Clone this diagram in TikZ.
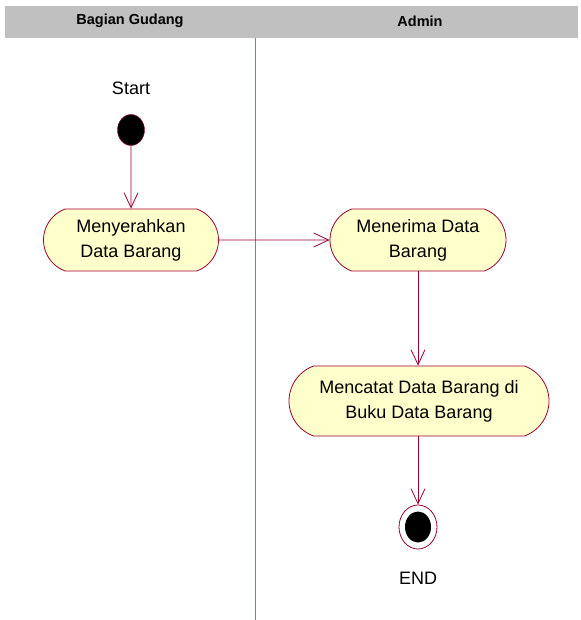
\documentclass[tikz,border=0pt]{standalone}
\usepackage{fontspec}
\setmainfont{Liberation Sans}
\usetikzlibrary{shapes.misc,shapes.geometric,arrows.meta}

\definecolor{lanegray}{RGB}{192,192,192}
\definecolor{umlred}{RGB}{153,0,51}
\definecolor{lanered}{RGB}{214,84,144}
\definecolor{actfill}{RGB}{255,255,204}

\begin{document}
\begin{tikzpicture}[x=1pt,y=-1pt,
    activity/.style={rounded rectangle, rounded rectangle arc length=140, draw=umlred, fill=actfill,
        line width=0.8pt, inner sep=0pt, align=center, font=\fontsize{18}{25}\selectfont},
    flow/.style={draw=umlred, line width=0.8pt, -{Straight Barb[length=15pt,width=14pt]}},
    lanelabel/.style={font=\bfseries\fontsize{14.5}{16}\selectfont},
    caption/.style={font=\fontsize{18}{20}\selectfont}]

    \useasboundingbox (0,0) rectangle (580,620);

    % swimlanes
    \fill [lanegray] (5,6) rectangle (578,38);
    \node [lanelabel] (gudang) at (130,21) {Bagian Gudang};
    \node [lanelabel] (admin) at (420,21) {Admin};
    \draw [lanered, line width=1pt] (255,38) -- (255,620);

    % start
    \node [caption] (startlabel) at (131,88) {Start};
    \node [ellipse, draw=umlred, fill=black, minimum width=27pt, minimum height=31pt] (start) at (131,130) {};

    % activities
    \node [activity, minimum width=175pt, minimum height=62pt] (menyerahkan) at (131,240) {Menyerahkan\\Data Barang};
    \node [activity, minimum width=176pt, minimum height=62pt] (menerima) at (418,240) {Menerima Data\\Barang};
    \node [activity, minimum width=260pt, minimum height=70pt] (mencatat) at (419,401) {Mencatat Data Barang di\\Buku Data Barang};

    % end
    \node [ellipse, draw=umlred, fill=white, line width=0.8pt, minimum width=38pt, minimum height=44pt] (endring) at (418,527) {};
    \node [ellipse, fill=black, minimum width=26pt, minimum height=31pt] (enddot) at (418,527) {};
    \node [caption] (endlabel) at (418,578) {END};

    % flows
    \draw [flow] (start) -- (menyerahkan);
    \draw [flow] (menyerahkan) -- (menerima);
    \draw [flow] (menerima.south) -- (menerima.south |- mencatat.north);
    \draw [flow] (mencatat.south -| endring.north) -- (endring.north);

\end{tikzpicture}
\end{document}
